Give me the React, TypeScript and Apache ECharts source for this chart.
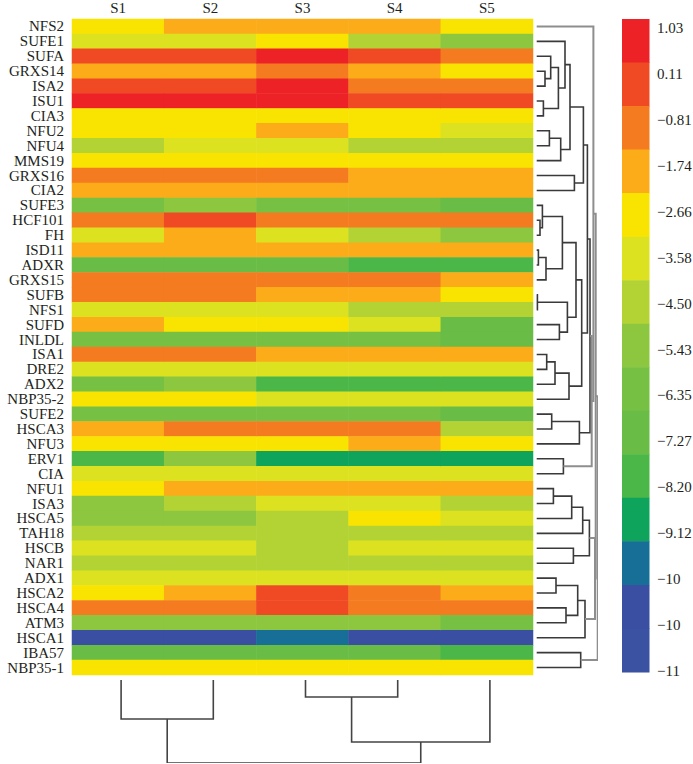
import React, { useEffect, useRef } from "react";
import * as echarts from "echarts";

const SAMPLES = ["S1", "S2", "S3", "S4", "S5"];
const GENES = [
  "NFS2", "SUFE1", "SUFA", "GRXS14", "ISA2", "ISU1", "CIA3", "NFU2", "NFU4", "MMS19",
  "GRXS16", "CIA2", "SUFE3", "HCF101", "FH", "ISD11", "ADXR", "GRXS15", "SUFB", "NFS1",
  "SUFD", "INLDL", "ISA1", "DRE2", "ADX2", "NBP35-2", "SUFE2", "HSCA3", "NFU3", "ERV1",
  "CIA", "NFU1", "ISA3", "HSCA5", "TAH18", "HSCB", "NAR1", "ADX1", "HSCA2", "HSCA4",
  "ATM3", "HSCA1", "IBA57", "NBP35-1",
];

const S1 = [-3.12, -4.04, -0.35, -2.2, -0.35, 0.6, -3.12, -3.12, -4.97, -3.12, -1.28, -2.2, -6.81, -1.28, -4.04, -2.2, -7.74, -1.28, -1.28, -4.04, -2.2, -6.81, -1.28, -4.04, -6.81, -3.12, -6.81, -2.2, -3.12, -8.66, -4.04, -3.12, -5.89, -5.89, -4.97, -4.04, -4.97, -4.04, -3.12, -1.28, -5.89, -11.4, -7.74, -3.12];
const S2 = [-2.2, -4.04, -0.35, -2.2, -0.35, 0.6, -3.12, -3.12, -4.04, -3.12, -1.28, -2.2, -5.89, -0.35, -2.2, -2.2, -7.74, -1.28, -1.28, -4.04, -3.12, -6.81, -1.28, -4.04, -5.89, -3.12, -6.81, -1.28, -3.12, -5.89, -4.04, -2.2, -4.97, -5.89, -4.97, -4.04, -4.97, -4.04, -2.2, -1.28, -5.89, -11.4, -7.74, -3.12];
const S3 = [-2.2, -3.12, 0.6, -1.28, 0.6, 0.6, -3.12, -2.2, -4.04, -3.12, -1.28, -2.2, -6.81, -1.28, -4.04, -2.2, -7.74, -1.28, -2.2, -4.04, -3.12, -6.81, -2.2, -4.04, -8.66, -4.04, -6.81, -1.28, -3.12, -9.58, -4.04, -2.2, -4.04, -4.97, -4.97, -4.97, -4.97, -4.04, -0.35, -0.35, -5.89, -10.5, -7.74, -3.12];
const S4 = [-2.2, -4.97, -0.35, -2.2, -1.28, -0.35, -3.12, -3.12, -4.97, -3.12, -2.2, -2.2, -6.81, -1.28, -4.97, -2.2, -8.66, -1.28, -2.2, -4.97, -4.04, -6.81, -2.2, -4.04, -8.66, -4.04, -6.81, -1.28, -2.2, -9.58, -4.04, -2.2, -4.04, -3.12, -4.97, -4.04, -4.97, -4.04, -1.28, -1.28, -5.89, -11.4, -7.74, -3.12];
const S5 = [-3.12, -5.89, -1.28, -3.12, -1.28, -0.35, -3.12, -4.04, -4.97, -3.12, -2.2, -2.2, -7.74, -1.28, -5.89, -2.2, -8.66, -2.2, -3.12, -4.97, -7.74, -7.74, -2.2, -4.04, -8.66, -4.04, -7.74, -4.97, -3.12, -9.58, -4.04, -2.2, -4.97, -4.04, -4.97, -4.04, -4.97, -4.04, -2.2, -1.28, -6.81, -11.4, -8.66, -3.12];

const BOUNDS = [1.03, 0.11, -0.81, -1.74, -2.66, -3.58, -4.5, -5.43, -6.35, -7.27, -8.2, -9.12, -10.04, -10.96, -11.88, -12.8];
const COLORS = [
  "#ec2227", "#ef4a23", "#f47b20", "#fbac18", "#f8e400", "#dde220", "#b3d334", "#8dc63f",
  "#76c043", "#69bc45", "#4bb748", "#0fa45c", "#176e96", "#3a4fa1", "#3b51a2",
];
const LEGEND_LABELS = [
  "1.03", "0.11", "\u22120.81", "\u22121.74", "\u22122.66", "\u22123.58", "\u22124.50", "\u22125.43",
  "\u22126.35", "\u22127.27", "\u22128.20", "\u22129.12", "\u221210", "\u221210", "\u221211",
];

// [childA, childB, height]; ids >= n refer to earlier merges (n + k)
const ROW_MERGES: [number, number, number][] = [
  [3, 4, 8.3], [2, 44, 14], [5, 6, 6.7], [45, 46, 21.7], [1, 47, 28.3],
  [7, 8, 12.7], [49, 9, 24], [48, 50, 33.3], [10, 11, 37.7], [51, 52, 46.7],
  [13, 14, 3.3], [12, 54, 5.7], [15, 16, 1.7], [56, 17, 9.3], [55, 57, 25.7],
  [18, 19, 0.7], [20, 21, 22.7], [59, 60, 30.7], [58, 61, 39.3], [22, 23, 10],
  [63, 24, 18.3], [64, 25, 32.3], [62, 65, 45], [53, 66, 50.7], [26, 27, 15],
  [68, 28, 42.7], [67, 69, 53.3], [29, 30, 26.7], [70, 71, 55], [0, 72, 56.7],
  [31, 32, 16.7], [74, 33, 35], [75, 34, 46], [35, 36, 36.7], [76, 77, 52.7],
  [37, 38, 19.3], [39, 40, 29.3], [79, 80, 41], [81, 41, 48.3], [78, 82, 58.3],
  [73, 83, 59], [42, 43, 44], [84, 85, 61],
];
const COL_MERGES: [number, number, number][] = [
  [2, 3, 17], [0, 1, 39], [5, 4, 62], [6, 7, 83],
];

const FONT = '"Liberation Serif", "Times New Roman", serif';
const TEXT = "#231f20";

function dendro(n: number, merges: [number, number, number][]) {
  const pos: number[] = [];
  const hgt: number[] = [];
  for (let i = 0; i < n; i++) { pos[i] = i; hgt[i] = 0; }
  return merges.map(([a, b, h], k) => {
    pos[n + k] = (pos[a] + pos[b]) / 2;
    hgt[n + k] = h;
    return { pa: pos[a], ha: hgt[a], pb: pos[b], hb: hgt[b], h };
  });
}

export default function App() {
  const ref = useRef<HTMLDivElement>(null);
  useEffect(() => {
    const chart = echarts.init(ref.current!, null, { renderer: "svg" });
    const cols = [S1, S2, S3, S4, S5];
    const heat: number[][] = [];
    cols.forEach((col, c) => col.forEach((v, r) => heat.push([c, r, v])));
    const pieces = COLORS.map((color, k) => ({ gt: BOUNDS[k + 1], lte: BOUNDS[k], color }));

    const rowSegs = dendro(GENES.length, ROW_MERGES).map((s) => ({
      coords: [[s.ha, s.pa], [s.h, s.pa], [s.h, s.pb], [s.hb, s.pb]],
      lineStyle: s.h >= 55
        ? { color: "#8e8e8e", width: 2, opacity: 1 }
        : { color: "#3a3a3a", width: 1.6, opacity: 1 },
    }));
    const colSegs = dendro(SAMPLES.length, COL_MERGES).map((s) => ({
      coords: [[s.pa, s.ha], [s.pa, s.h], [s.pb, s.h], [s.pb, s.hb]],
      lineStyle: { color: "#444", width: 1.6, opacity: 1 },
    }));

    const legend: any[] = [];
    COLORS.forEach((c, k) => {
      legend.push({ type: "rect", shape: { x: 622, y: 19 + k * 43.53, width: 27.5, height: 44 }, style: { fill: c } });
    });
    LEGEND_LABELS.forEach((t, k) => {
      legend.push({
        type: "text", x: 657, y: 28 + k * 45.93,
        style: { text: t, fill: TEXT, fontSize: 15, fontFamily: FONT, verticalAlign: "middle", align: "left" },
      });
    });

    chart.setOption({
      animation: false,
      backgroundColor: "#fff",
      grid: [
        { left: 72, top: 19, width: 461, height: 656 },
        { left: 536.7, top: 19, width: 61, height: 656 },
        { left: 75, top: 680, width: 461, height: 83 },
      ],
      xAxis: [
        {
          gridIndex: 0, type: "category", data: SAMPLES, position: "top",
          axisLine: { show: false }, axisTick: { show: false }, splitLine: { show: false },
          axisLabel: { interval: 0, margin: 4, fontSize: 15, fontFamily: FONT, color: TEXT },
        },
        { gridIndex: 1, type: "value", min: 0, max: 61, show: false },
        { gridIndex: 2, type: "value", min: -0.5, max: 4.5, show: false },
      ],
      yAxis: [
        {
          gridIndex: 0, type: "category", data: GENES, inverse: true,
          axisLine: { show: false }, axisTick: { show: false }, splitLine: { show: false },
          axisLabel: { interval: 0, margin: 8, fontSize: 15, fontFamily: FONT, color: TEXT },
        },
        { gridIndex: 1, type: "value", min: -0.5, max: 43.5, inverse: true, show: false },
        { gridIndex: 2, type: "value", min: 0, max: 83, inverse: true, show: false },
      ],
      visualMap: {
        type: "piecewise", show: false, dimension: 2, seriesIndex: 0, pieces,
      },
      series: [
        {
          type: "heatmap", xAxisIndex: 0, yAxisIndex: 0, data: heat,
          itemStyle: { borderWidth: 0 }, emphasis: { disabled: true }, silent: true,
        },
        {
          type: "lines", coordinateSystem: "cartesian2d", xAxisIndex: 1, yAxisIndex: 1,
          polyline: true, silent: true, data: rowSegs,
        },
        {
          type: "lines", coordinateSystem: "cartesian2d", xAxisIndex: 2, yAxisIndex: 2,
          polyline: true, silent: true, data: colSegs,
        },
      ],
      graphic: legend,
    });
    return () => chart.dispose();
  }, []);
  return (
    <div
      ref={ref}
      style={{ position: "absolute", left: 0, top: 0, width: 693, height: 764, background: "#fff" }}
    />
  );
}
